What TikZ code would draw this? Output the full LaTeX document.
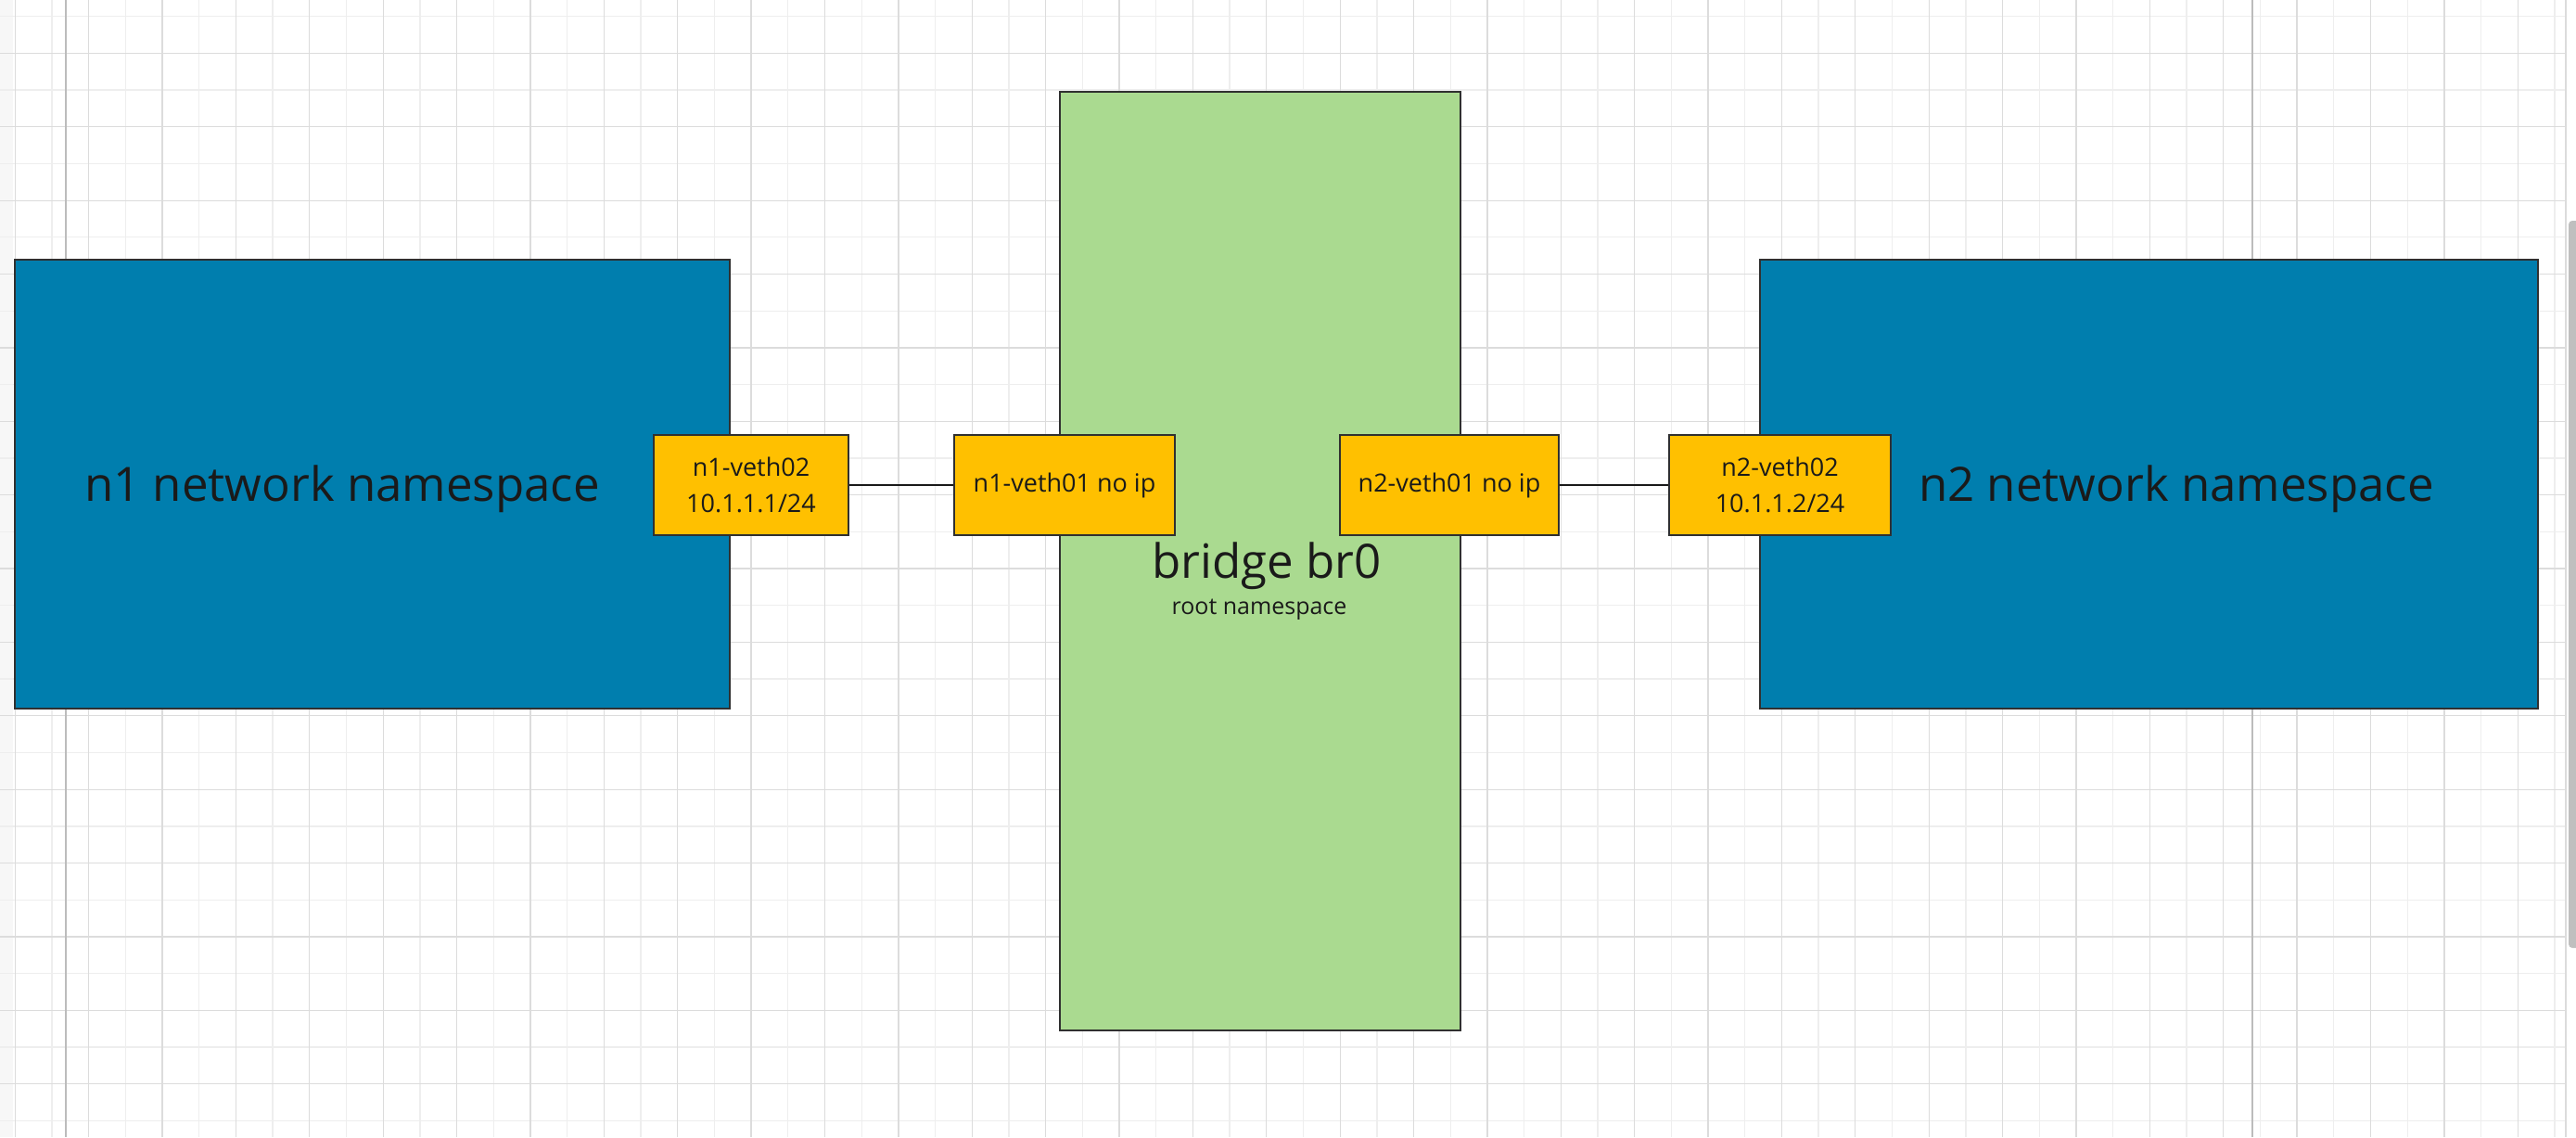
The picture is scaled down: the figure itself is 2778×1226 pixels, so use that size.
\documentclass[tikz,border=0pt]{standalone}
\usepackage{fontspec}
\setmainfont{Open Sans}
\definecolor{nsblue}{RGB}{0,126,174}
\definecolor{brgreen}{RGB}{170,218,144}
\definecolor{vethyellow}{RGB}{255,192,0}
\definecolor{boxline}{RGB}{48,48,48}
\definecolor{gridminor}{RGB}{238,238,238}
\definecolor{gridmajor}{RGB}{220,220,220}
\definecolor{pageline}{RGB}{188,188,188}
\definecolor{labeltext}{RGB}{26,26,26}
\tikzset{
	nsbox/.style={draw=boxline, line width=2pt, fill=nsblue, minimum height=484pt, inner sep=0pt},
	brbox/.style={draw=boxline, line width=2pt, fill=brgreen, minimum width=432pt, minimum height=1012pt, inner sep=0pt},
	vethbox/.style={draw=boxline, line width=2pt, fill=vethyellow, minimum height=108pt, inner sep=0pt, align=center, text=labeltext, font=\fontsize{27}{39}\selectfont},
	bigtext/.style={text=labeltext, inner sep=0pt, anchor=base, font=\fontsize{51}{61}\selectfont},
	smalltext/.style={text=labeltext, inner sep=0pt, anchor=base, font=\fontsize{25}{30}\selectfont},
	link/.style={line width=2pt, black!90}
}
\begin{document}
\begin{tikzpicture}[x=1pt, y=-1pt]
		\def\gx{56}
		\def\gy{17.7}
		\def\gs{39.69}

		\useasboundingbox (0, 0) rectangle (2778, 1226) ;
		\fill[white] (0, 0) rectangle (2778, 1226) ;
		\fill[black!3] (0, 0) rectangle (14, 1226) ;

		\foreach \k in {0,2,...,68}
			\draw[gridminor, line width=1.3pt] (\gx + \k*\gs, 0) -- (\gx + \k*\gs, 1226) ;
		\foreach \k in {0,2,...,30}
			\draw[gridminor, line width=1.3pt] (0, \gy + \k*\gs) -- (2767, \gy + \k*\gs) ;
		\foreach \k in {-1,1,...,67}
			\draw[gridmajor, line width=1.3pt] (\gx + \k*\gs, 0) -- (\gx + \k*\gs, 1226) ;
		\foreach \k in {1,3,...,29}
			\draw[gridmajor, line width=1.3pt] (0, \gy + \k*\gs) -- (2767, \gy + \k*\gs) ;

		\draw[pageline, line width=2pt] (71, 0) -- (71, 1226) ;
		\draw[pageline, line width=2pt] (2429, 0) -- (2429, 1226) ;

		\fill[white] (2768, 0) rectangle (2778, 1226) ;
		\draw[gridmajor, line width=1.3pt] (2767, 0) -- (2767, 1226) ;
		\fill[black!25, rounded corners=4pt] (2770, 238) rectangle (2782, 1022) ;

		\node[nsbox, minimum width=771pt] (n1ns) at (401.5, 522) {} ;
		\node[nsbox, minimum width=839pt] (n2ns) at (2317.5, 522) {} ;
		\node[bigtext] (n1label) at (369, 540) {n1 network namespace} ;
		\node[bigtext] (n2label) at (2347, 540) {n2 network namespace} ;

		\node[brbox] (br0) at (1359, 605) {} ;
		\node[bigtext] (brlabel) at (1366, 623) {bridge br0} ;
		\node[smalltext] (rootlabel) at (1358, 662) {root namespace} ;

		\node[vethbox, minimum width=210pt] (n1v02) at (810, 523) {n1-veth02\\10.1.1.1/24} ;
		\node[vethbox, minimum width=238pt] (n1v01) at (1148, 523) {n1-veth01 no ip} ;
		\node[vethbox, minimum width=236pt] (n2v01) at (1563, 523) {n2-veth01 no ip} ;
		\node[vethbox, minimum width=239pt] (n2v02) at (1919.5, 523) {n2-veth02\\10.1.1.2/24} ;

		\draw[link] (n1v02) -- (n1v01) ;
		\draw[link] (n2v01) -- (n2v02) ;
	\end{tikzpicture}
\end{document}
